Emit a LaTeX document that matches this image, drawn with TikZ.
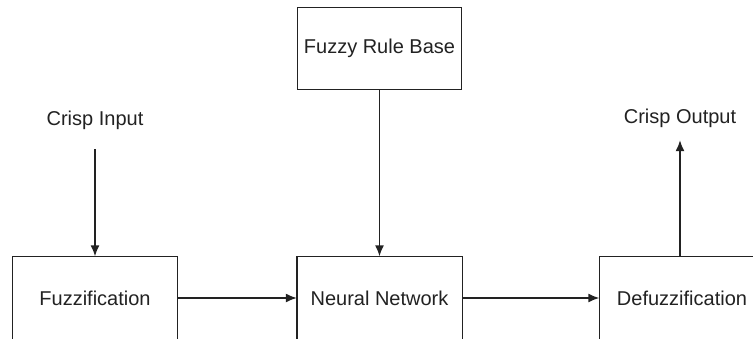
\documentclass[tikz,border=0pt]{standalone}
\usepackage{fontspec}
\setmainfont{Liberation Sans}
\usetikzlibrary{arrows.meta}
\definecolor{ink}{HTML}{222222}
\begin{document}
\begin{tikzpicture}[x=1pt,y=-1pt,
  blockbox/.style={draw=ink,line width=1.4pt,fill=white,minimum width=164pt,minimum height=82pt,inner sep=0pt,font=\fontsize{20}{24}\selectfont,text=ink},
  openbox/.style={blockbox,draw=none,fill=none},
  frame/.style={draw=ink,line width=1.4pt},
  lbl/.style={inner sep=0pt,font=\fontsize{20}{24}\selectfont,text=ink},
  arr/.style={draw=ink,line width=1.4pt,-{Latex[length=11pt,width=9pt]}}]
  \useasboundingbox (0,0) rectangle (753,338);
  \clip (0,0) rectangle (753,338);
  \fill[white] (0,0) rectangle (753,338);
  % processing blocks
  \node[blockbox] (rb) at (379.5,48.5) {Fuzzy Rule Base};
  \node[openbox] (fz) at (95,298) {Fuzzification};
  \node[openbox] (nn) at (379.5,298) {Neural Network};
  \node[openbox] (dz) at (682,298) {Defuzzification};
  % the lower blocks run on below the visible area
  \foreach \b in {fz,nn,dz}
    \draw[frame] (\b.north west) rectangle ([yshift=-20pt]\b.south east);
  % input and output labels
  \node[lbl,minimum height=58pt] (ci) at (95,120) {Crisp Input};
  \node[lbl,minimum height=44pt] (co) at (680,118) {Crisp Output};
  % signal flow
  \draw[arr] (ci.south) -- (fz.north);
  \draw[arr] (rb.south) -- (nn.north);
  \draw[arr] (fz.east) -- (nn.west);
  \draw[arr] (nn.east) -- (dz.west);
  \draw[arr] (dz.north -| co.south) -- (co.south);
\end{tikzpicture}
\end{document}
